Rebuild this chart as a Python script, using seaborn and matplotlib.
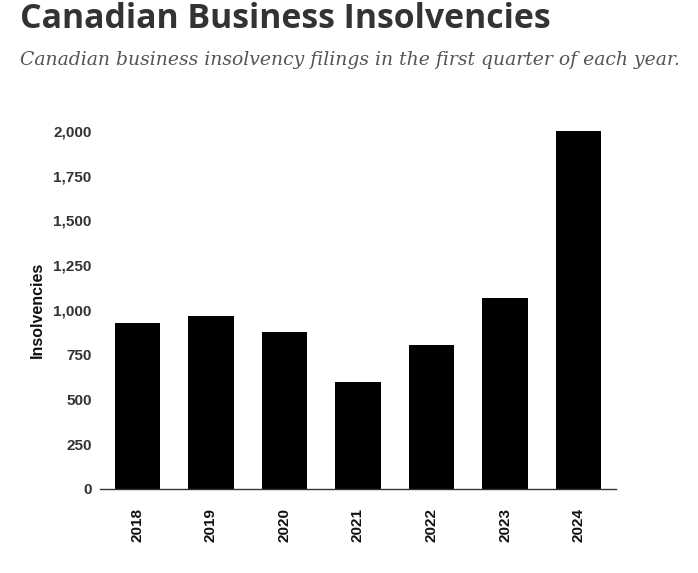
import matplotlib
matplotlib.use("Agg")
import matplotlib.pyplot as plt
import seaborn as sns
import pandas as pd
from matplotlib.ticker import FuncFormatter

years = ["2018", "2019", "2020", "2021", "2022", "2023", "2024"]
insolvencies = [927, 966, 877, 598, 804, 1067, 2000]
yticks = [0, 250, 500, 750, 1000, 1250, 1500, 1750, 2000]

title = "Canadian Business Insolvencies"
subtitle = "Canadian business insolvency filings in the first quarter of each year."

sns.set_theme(style="white")
plt.rcParams['font.family'] = ['Liberation Sans', 'DejaVu Sans']

df = pd.DataFrame({"year": years, "value": insolvencies})

fig = plt.figure(figsize=(6.98, 5.73), dpi=100)
ax = fig.add_axes([100/698, 1-489/573, 516/698, 358/573])
sns.barplot(data=df, x="year", y="value", color="black", width=0.62,
            saturation=1, ax=ax, edgecolor="none", linewidth=0)
ax.set_xlim(-0.51, 6.51)
ax.set_ylim(0, 2000)
ax.set_yticks(yticks)
ax.yaxis.set_major_formatter(FuncFormatter(lambda v, p: f"{int(v):,}"))
for s in ["top", "right", "left"]:
    ax.spines[s].set_visible(False)
ax.spines["bottom"].set_color("#333333")
ax.spines["bottom"].set_linewidth(1.0)
ax.tick_params(axis="y", length=0, pad=6, labelsize=11, labelcolor="#333333")
ax.tick_params(axis="x", length=0, pad=14, labelsize=11, labelcolor="#111111",
               labelrotation=90)
for lab in ax.get_yticklabels() + ax.get_xticklabels():
    lab.set_fontweight("bold")
ax.set_xlabel("")
ax.set_ylabel("Insolvencies", fontsize=11.5, fontweight="bold", color="#111111",
              labelpad=6)

fig.text(20/698, 1-28/573, title, fontsize=24.4, fontweight="bold",
         color="#333333", family=["Open Sans", "DejaVu Sans"], va="baseline", ha="left")
fig.text(20/698, 1-65/573, subtitle, fontsize=13.5, style="italic",
         color="#555555", family=["DejaVu Serif"], va="baseline", ha="left")

fig.savefig("out.png", dpi=100)
